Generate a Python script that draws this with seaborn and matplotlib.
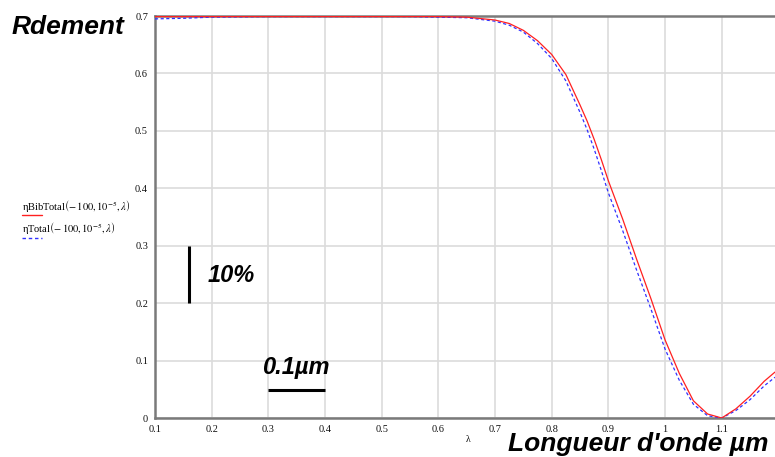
import matplotlib
matplotlib.use("Agg")
import matplotlib.pyplot as plt
from matplotlib.lines import Line2D
import seaborn as sns
import pandas as pd

# wavelength (µm)
lam = [0.1, 0.15, 0.2, 0.3, 0.4, 0.5, 0.55, 0.6, 0.65, 0.7, 0.725, 0.75, 0.775,
       0.8, 0.825, 0.85, 0.8625, 0.875, 0.8875, 0.9, 0.925, 0.95, 0.975, 1.0,
       1.025, 1.05, 1.075, 1.1, 1.125, 1.15, 1.175, 1.194]
# ηBibTotal(-100,1e-5,λ)
eta_bib = [0.699, 0.699, 0.699, 0.699, 0.699, 0.699, 0.699, 0.699, 0.698, 0.693,
           0.687, 0.675, 0.657, 0.633, 0.598, 0.545, 0.517, 0.485, 0.450, 0.413,
           0.347, 0.276, 0.208, 0.136, 0.078, 0.030, 0.007, 0.0, 0.016, 0.038,
           0.064, 0.080]
# ηTotal(-100,1e-5,λ)
eta_tot = [0.695, 0.696, 0.698, 0.699, 0.699, 0.699, 0.699, 0.698, 0.697, 0.691,
           0.684, 0.672, 0.652, 0.626, 0.587, 0.532, 0.502, 0.468, 0.431, 0.392,
           0.327, 0.257, 0.190, 0.120, 0.066, 0.024, 0.004, 0.0, 0.013, 0.032,
           0.056, 0.071]

x_ticks = [0.1, 0.2, 0.3, 0.4, 0.5, 0.6, 0.7, 0.8, 0.9, 1.0, 1.1]
x_ticklabels = ["0.1", "0.2", "0.3", "0.4", "0.5", "0.6", "0.7", "0.8", "0.9", "1", "1.1"]
y_ticks = [0, 0.1, 0.2, 0.3, 0.4, 0.5, 0.6, 0.7]
y_ticklabels = ["0", "0.1", "0.2", "0.3", "0.4", "0.5", "0.6", "0.7"]

legend_labels = [r"ηBibTotal$\left(-\,100,10^{-5},\lambda\right)$",
                 r"ηTotal$\left(-\,100,10^{-5},\lambda\right)$"]

sns.set_style("white")
plt.rcParams["mathtext.fontset"] = "stix"
plt.rcParams["text.color"] = "black"

df = pd.DataFrame({"lam": lam, "bib": eta_bib, "tot": eta_tot})

fig = plt.figure(figsize=(7.75, 4.57), dpi=100)
ax = fig.add_axes([155 / 775, 1 - 418 / 457, 1 - 155 / 775, (418 - 16) / 457])

sns.lineplot(data=df, x="lam", y="tot", ax=ax, color="#3030ff", lw=0.9,
             linestyle=(0, (2.5, 2)), zorder=3)
sns.lineplot(data=df, x="lam", y="bib", ax=ax, color="#ff2020", lw=0.9, zorder=4)

ax.set_xlim(0.1, 1.194)
ax.set_ylim(0, 0.7)
ax.set_xticks(x_ticks)
ax.set_xticklabels(x_ticklabels)
ax.set_yticks(y_ticks)
ax.set_yticklabels(y_ticklabels)
for lbl in ax.get_xticklabels() + ax.get_yticklabels():
    lbl.set_family("Liberation Serif")
    lbl.set_fontsize(7.5)
    lbl.set_color("#111111")
ax.tick_params(axis="both", length=2, width=0.8, color="#808080", pad=3)
ax.grid(True, color="#dcdcdc", lw=1.2)
ax.set_axisbelow(True)
for s in ["left", "bottom", "top"]:
    ax.spines[s].set_color("#7a7a7a")
    ax.spines[s].set_linewidth(1.8)
ax.spines["right"].set_visible(False)
ax.set_xlabel("")
ax.set_ylabel("")

# scale bars and their labels
ax.plot([0.16, 0.16], [0.2, 0.3], color="black", lw=2.2, solid_capstyle="butt", zorder=5)
ax.plot([0.3, 0.4], [0.048, 0.048], color="black", lw=2.2, solid_capstyle="butt", zorder=5)
ax.text(0.192, 0.236, "10%", fontsize=17, fontweight="bold", style="italic",
        family="Liberation Sans", ha="left", va="baseline", color="black")
ax.text(0.289, 0.077, "0.1µm", fontsize=17, fontweight="bold", style="italic",
        family="Liberation Sans", ha="left", va="baseline", color="black")

# titles
fig.text(12 / 775, 1 - 34 / 457, "Rdement", fontsize=19, fontweight="bold", style="italic",
         family="Liberation Sans", ha="left", va="baseline", color="black")
fig.text(508 / 775, 1 - 451 / 457, "Longueur d'onde µm", fontsize=19, fontweight="bold",
         style="italic", family="Liberation Sans", ha="left", va="baseline", color="black")
fig.text(468 / 775, 1 - 442 / 457, "λ", fontsize=7, family="Liberation Serif",
         ha="center", va="baseline", color="black")

# legend (text over line sample)
fig.text(22 / 775, 1 - 210 / 457, legend_labels[0], fontsize=7.5,
         family="Liberation Serif", ha="left", va="baseline", color="black")
fig.add_artist(Line2D([22 / 775, 42 / 775], [1 - 215 / 457] * 2, color="#ff2020", lw=1.0))
fig.text(22 / 775, 1 - 232 / 457, legend_labels[1], fontsize=7.5,
         family="Liberation Serif", ha="left", va="baseline", color="black")
fig.add_artist(Line2D([22 / 775, 42 / 775], [1 - 238 / 457] * 2, color="#3030ff", lw=1.0,
                      linestyle=(0, (2.5, 2))))

fig.savefig("out.png", dpi=100)
